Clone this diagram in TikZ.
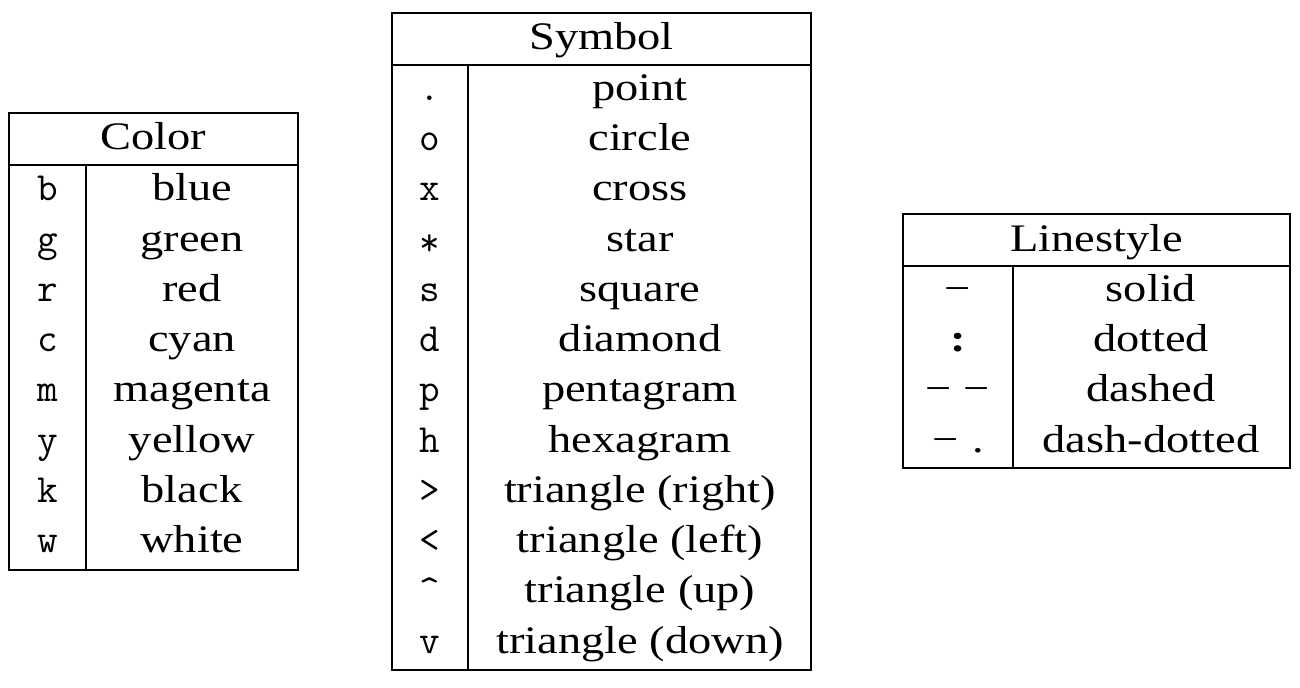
\documentclass[tikz,border=0pt]{standalone}
\usepackage{fontspec}
\setmainfont{Liberation Serif}[FakeStretch=1.19]
\begin{document}
\begin{tikzpicture}[x=0.5pt,y=-0.5pt,
  every node/.style={inner sep=0pt,anchor=base},
  txt/.style={font=\fontsize{19.5}{23}\selectfont},
  code/.style={font=\fontsize{20}{23}\selectfont\ttfamily},
  lsym/.style={font=\fontsize{19.5}{23}\selectfont},
  frame/.style={draw=black,line width=0.7pt}]
\useasboundingbox (0,0) rectangle (1300,688);
% Color table
\draw[frame] (9,113) rectangle (298,570);
\draw[frame] (9,165) -- (298,165);
\draw[frame] (86,165) -- (86,570);
\node[txt] (colorhead) at (153.5,150) {Color};
\foreach \c/\n [count=\i from 0] in {b/blue,g/green,r/red,c/cyan,m/magenta,y/yellow,k/black,w/white}{
  \node[code] (cc\i) at (47.5,201+50.25*\i) {\c};
  \node[txt] (cn\i) at (192,201+50.25*\i) {\n};
}
% Symbol table
\draw[frame] (392,13) rectangle (811,670);
\draw[frame] (392,65) -- (811,65);
\draw[frame] (468,65) -- (468,670);
\node[txt] (symhead) at (601.5,50) {Symbol};
\foreach \c/\n [count=\i from 0] in {./point,o/circle,x/cross,{\raisebox{-0.25ex}{*}}/star,s/square,d/diamond,p/pentagram,h/hexagram,>/triangle (right),</triangle (left),\textasciicircum/triangle (up),v/triangle (down)}{
  \node[code] (sc\i) at (430,100.5+50.25*\i) {\c};
  \node[txt] (sn\i) at (640,100.5+50.25*\i) {\n};
}
% Linestyle table
\draw[frame] (903,214) rectangle (1290,468);
\draw[frame] (903,266) -- (1290,266);
\draw[frame] (1013,266) -- (1013,468);
\node[txt] (linehead) at (1096.5,252) {Linestyle};
\node[lsym] (lc0) at (958,301.5) {−};
\node[txt] (ln0) at (1151,301.5) {solid};
\node[lsym] (lc1) at (958,351.75) {\textbf{:}};
\node[txt] (ln1) at (1151,351.75) {dotted};
\node[lsym] (lc2) at (958,402) {−\hspace{0.3em}−};
\node[txt] (ln2) at (1151,402) {dashed};
\node[lsym] (lc3) at (958,452.25) {−\hspace{0.35em}.};
\node[txt] (ln3) at (1151,452.25) {dash-dotted};
\end{tikzpicture}
\end{document}
